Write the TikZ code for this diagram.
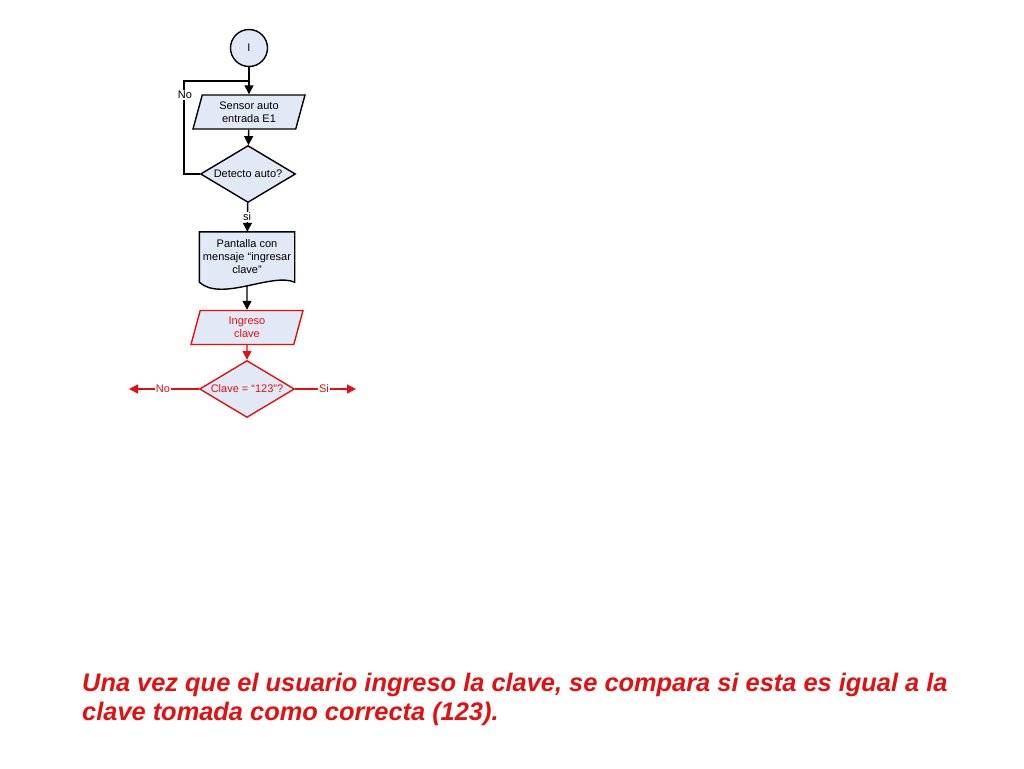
\documentclass[tikz,border=0pt]{standalone}
\usepackage{fontspec}
\setmainfont{Liberation Sans}
\usetikzlibrary{positioning,shapes.geometric,arrows.meta,calc}
\definecolor{boxfill}{RGB}{226,233,246}
\definecolor{keyred}{RGB}{226,16,16}
\def\linecolor{black}
\def\s{11pt}
\newcommand{\flowlabel}[3]{% label sitting on a connector
  \node[#1, fill=white, inner sep=1pt, font=\fontsize{\s}{13pt}\selectfont] at(#2){#3};
}

\begin{document}
\begin{tikzpicture}[x=1pt, y=-1pt,
    every node/.style={font=\fontsize{\s}{13pt}\selectfont, align=center},
    flowbox/.style={draw=\linecolor, fill=boxfill, line width=1.4pt, inner sep=0pt},
    iobox/.style={flowbox, trapezium, trapezium left angle=66, trapezium right angle=114,
        trapezium stretches body, minimum width=112pt, minimum height=34pt},
    askbox/.style={flowbox, diamond, shape aspect=1.67, minimum width=95pt, minimum height=57pt},
    flowline/.style={draw=\linecolor, line width=1.4pt, -{Triangle[length=9pt,width=9pt]}}
  ]
  \useasboundingbox (0,0) rectangle (1024,768);

  % first part: car detection
  \node[flowbox, circle, minimum size=37pt](start) at(249,48){I};
  \node[iobox](sensor) at(249,112){Sensor auto\\entrada E1};
  \node[askbox](detect) at(248,174){Detecto auto?};
  \coordinate (join) at(249,81);

  % second part: message on the screen
  \node[minimum width=95pt, minimum height=50pt, inner sep=0pt](doc) at(247,257){};
  \draw[flowbox] (doc.north west) -- (doc.north east) -- (doc.south east)
    .. controls ($(doc.south east)+(-23,-10)$) and ($(doc.south west)+(22,20)$) .. (doc.south west) -- cycle;
  \node at(doc){Pantalla con\\mensaje “ingresar\\clave”};
  \coordinate (docend) at($(doc.south)+(0,4)$);

  % third part: key input (red)
  \node[iobox, draw=keyred, text=keyred](key) at(247,327.5){Ingreso\\clave};
  \node[askbox, draw=keyred, text=keyred](check) at(247,389){Clave = “123”?};
  \coordinate (notok) at(129,389);
  \coordinate (ok) at(356,389);

  % connectors
  \draw[flowline] (start) -- (sensor);
  \draw[flowline] (sensor) -- (detect);
  \draw[draw=\linecolor, line width=1.4pt] (detect.west) -- ++(-16,0) |- (join);
  \draw[flowline] (detect) -- (doc);
  \draw[flowline] (docend) -- (key);
  \draw[flowline, draw=keyred, fill=keyred] (key) -- (check);
  \draw[flowline, draw=keyred, fill=keyred] (check.west) -- (notok);
  \draw[flowline, draw=keyred, fill=keyred] (check.east) -- (ok);

  \flowlabel{text=black}{185,95}{No}
  \flowlabel{text=black}{247,217}{si}
  \flowlabel{text=keyred}{163,389}{No}
  \flowlabel{text=keyred}{324,389}{Si}

  % explanation below
  \node[anchor=base west, text=keyred, align=left, inner sep=0pt,
    font=\fontsize{25.4pt}{29pt}\selectfont\bfseries\itshape](note) at(82,720)
    {Una vez que el usuario ingreso la clave, se compara si esta es igual a la\\
     clave tomada como correcta (123).};

\end{tikzpicture}
\end{document}
